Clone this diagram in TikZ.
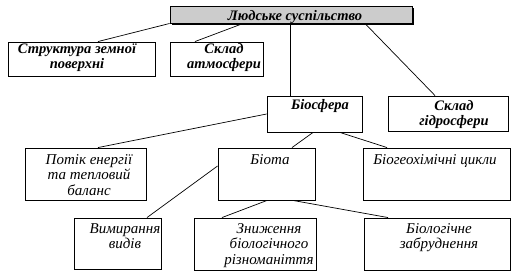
\documentclass[tikz,border=0pt]{standalone}
\usepackage{fontspec}
\setmainfont{Liberation Serif}
\usetikzlibrary{shadows}
\begin{document}
\begin{tikzpicture}[x=1pt,y=-1pt,
  box/.style={draw, line width=0.9pt, inner sep=0pt, fill=white,
    drop shadow={shadow xshift=0.7pt, shadow yshift=-0.7pt, fill=black, opacity=1}},
  txt/.style={font=\fontsize{15}{15.5}\selectfont\itshape, align=center, anchor=base, inner sep=0pt},
  txtb/.style={txt, font=\fontsize{14.5}{15.5}\selectfont\bfseries\itshape},
  conn/.style={line width=0.7pt}]
\useasboundingbox (0,0) rectangle (526,279);
% boxes
\node[draw, line width=1pt, inner sep=0pt, fill=gray!40, minimum width=242pt, minimum height=17pt,
  drop shadow={shadow xshift=1.5pt, shadow yshift=-1.5pt, fill=black, opacity=1}] (top) at (291,14.5) {};
\node[box, minimum width=147pt, minimum height=34pt] (struct) at (81.5,59) {};
\node[box, minimum width=93pt, minimum height=34pt] (atm) at (216.5,59) {};
\node[box, minimum width=95pt, minimum height=36pt] (bios) at (314.5,114) {};
\node[box, minimum width=120pt, minimum height=35pt] (hydro) at (448,113.5) {};
\node[box, minimum width=121pt, minimum height=52pt] (potik) at (85.5,174) {};
\node[box, minimum width=97pt, minimum height=52pt] (biota) at (266.5,174) {};
\node[box, minimum width=147pt, minimum height=52pt] (biogeo) at (436.5,174) {};
\node[box, minimum width=87pt, minimum height=51pt] (vym) at (117.5,243.5) {};
\node[box, minimum width=122pt, minimum height=52pt] (znyzh) at (255,244) {};
\node[box, minimum width=146pt, minimum height=52pt] (bioz) at (437,244) {};
% texts (anchor = baseline of last line)
\node[txtb] (ttop) at (295,20) {Людське суспільство};
\node[txtb] (tstruct) at (77,68.5) {Структура земної\\поверхні};
\node[txtb] (tatm) at (224,68.5) {Склад\\атмосфери};
\node[txtb] (tbios) at (320,109) {Біосфера};
\node[txtb] (thydro) at (454,125.5) {Склад\\гідросфери};
\node[txt] (tpotik) at (89,195) {Потік енергії\\та тепловий\\баланс};
\node[txt] (tbiota) at (270,164) {Біота};
\node[txt] (tbiogeo) at (435,164) {Біогеохімічні цикли};
\node[txt] (tvym) at (125,248.5) {Вимирання\\видів};
\node[txt] (tznyzh) at (269,264) {Зниження\\біологічного\\різноманіття};
\node[txt] (tbioz) at (439,248.5) {Біологічне\\забруднення};
% connectors
\draw[conn] (top.south west) -- ([xshift=16.5]struct.north);
\draw[conn] ([xshift=-48]top.south) -- ([xshift=-21.5]atm.north);
\draw[conn] ([xshift=-1]top.south) -- ([xshift=-1]top.south |- bios.north);
\draw[conn] ([xshift=74]top.south) -- ([xshift=-13]hydro.north);
\draw[conn] (bios.west) -- ([xshift=12.5]potik.north);
\draw[conn] ([xshift=-1.5]bios.south) -- ([xshift=25.5]biota.north);
\draw[conn] ([xshift=25.5]bios.south) -- ([xshift=-49.5]biogeo.north);
\draw[conn] ([yshift=8]biota.west) -- ([xshift=29.5]vym.north);
\draw[conn] ([xshift=0.5]biota.south) -- ([xshift=-33]znyzh.north);
\draw[conn] ([xshift=26.5]biota.south) -- ([xshift=-49]bioz.north);
\end{tikzpicture}
\end{document}
